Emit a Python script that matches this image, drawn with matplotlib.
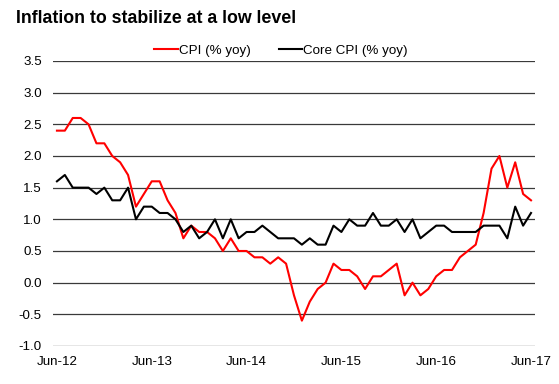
import numpy as np
import pandas as pd
import matplotlib
matplotlib.use('Agg')
import matplotlib.pyplot as plt

plt.rcParams['font.family'] = ['Liberation Sans', 'DejaVu Sans']

# monthly, Jun-12 .. Jun-17
months = pd.date_range('2012-06-01', '2017-06-01', freq='MS')
cpi = [2.4, 2.4, 2.6, 2.6, 2.5, 2.2, 2.2, 2.0, 1.9, 1.7, 1.2, 1.4,
       1.6, 1.6, 1.3, 1.1, 0.7, 0.9, 0.8, 0.8, 0.7, 0.5, 0.7, 0.5,
       0.5, 0.4, 0.4, 0.3, 0.4, 0.3, -0.2, -0.6, -0.3, -0.1, 0.0, 0.3,
       0.2, 0.2, 0.1, -0.1, 0.1, 0.1, 0.2, 0.3, -0.2, 0.0, -0.2, -0.1,
       0.1, 0.2, 0.2, 0.4, 0.5, 0.6, 1.1, 1.8, 2.0, 1.5, 1.9, 1.4,
       1.3]
core = [1.6, 1.7, 1.5, 1.5, 1.5, 1.4, 1.5, 1.3, 1.3, 1.5, 1.0, 1.2,
        1.2, 1.1, 1.1, 1.0, 0.8, 0.9, 0.7, 0.8, 1.0, 0.7, 1.0, 0.7,
        0.8, 0.8, 0.9, 0.8, 0.7, 0.7, 0.7, 0.6, 0.7, 0.6, 0.6, 0.9,
        0.8, 1.0, 0.9, 0.9, 1.1, 0.9, 0.9, 1.0, 0.8, 1.0, 0.7, 0.8,
        0.9, 0.9, 0.8, 0.8, 0.8, 0.8, 0.9, 0.9, 0.9, 0.7, 1.2, 0.9,
        1.1]
yticks = [-1.0, -0.5, 0.0, 0.5, 1.0, 1.5, 2.0, 2.5, 3.0, 3.5]

x = np.arange(len(months))
xticks = x[::12]
xlabels = [m.strftime('%b-%y') for m in months[::12]]

fig = plt.figure(figsize=(5.59, 3.84), dpi=100)
ax = fig.add_axes([0.0948, 0.0990, 0.8622, 0.7422])

for y in yticks:
    ax.axhline(y, color='#3a3a3a', lw=0.9, zorder=1)

ax.plot(x, cpi, color='#ff0000', lw=1.5, label='CPI (% yoy)', zorder=3)
ax.plot(x, core, color='black', lw=1.5, label='Core CPI (% yoy)', zorder=3)

ax.set_xlim(-0.5, 60.5)
ax.set_ylim(-1.0, 3.5)
ax.set_yticks(yticks)
ax.set_yticklabels([f'{v:.1f}' for v in yticks])
ax.set_xticks(xticks)
ax.set_xticklabels(xlabels)
ax.tick_params(length=0, labelsize=9.6, colors='black')
ax.tick_params(axis='y', pad=8)
ax.tick_params(axis='x', pad=7)
for s in ax.spines.values():
    s.set_visible(False)

fig.text(0.029, 0.952, 'Inflation to stabilize at a low level', fontsize=12.8,
         fontweight='bold', va='center', ha='left')

fig.legend(loc='center', bbox_to_anchor=(0.503, 0.868), ncol=2, frameon=False,
           fontsize=9.6, handlelength=1.75, handletextpad=0.1, columnspacing=2.1)

fig.savefig('out.png', dpi=100)
